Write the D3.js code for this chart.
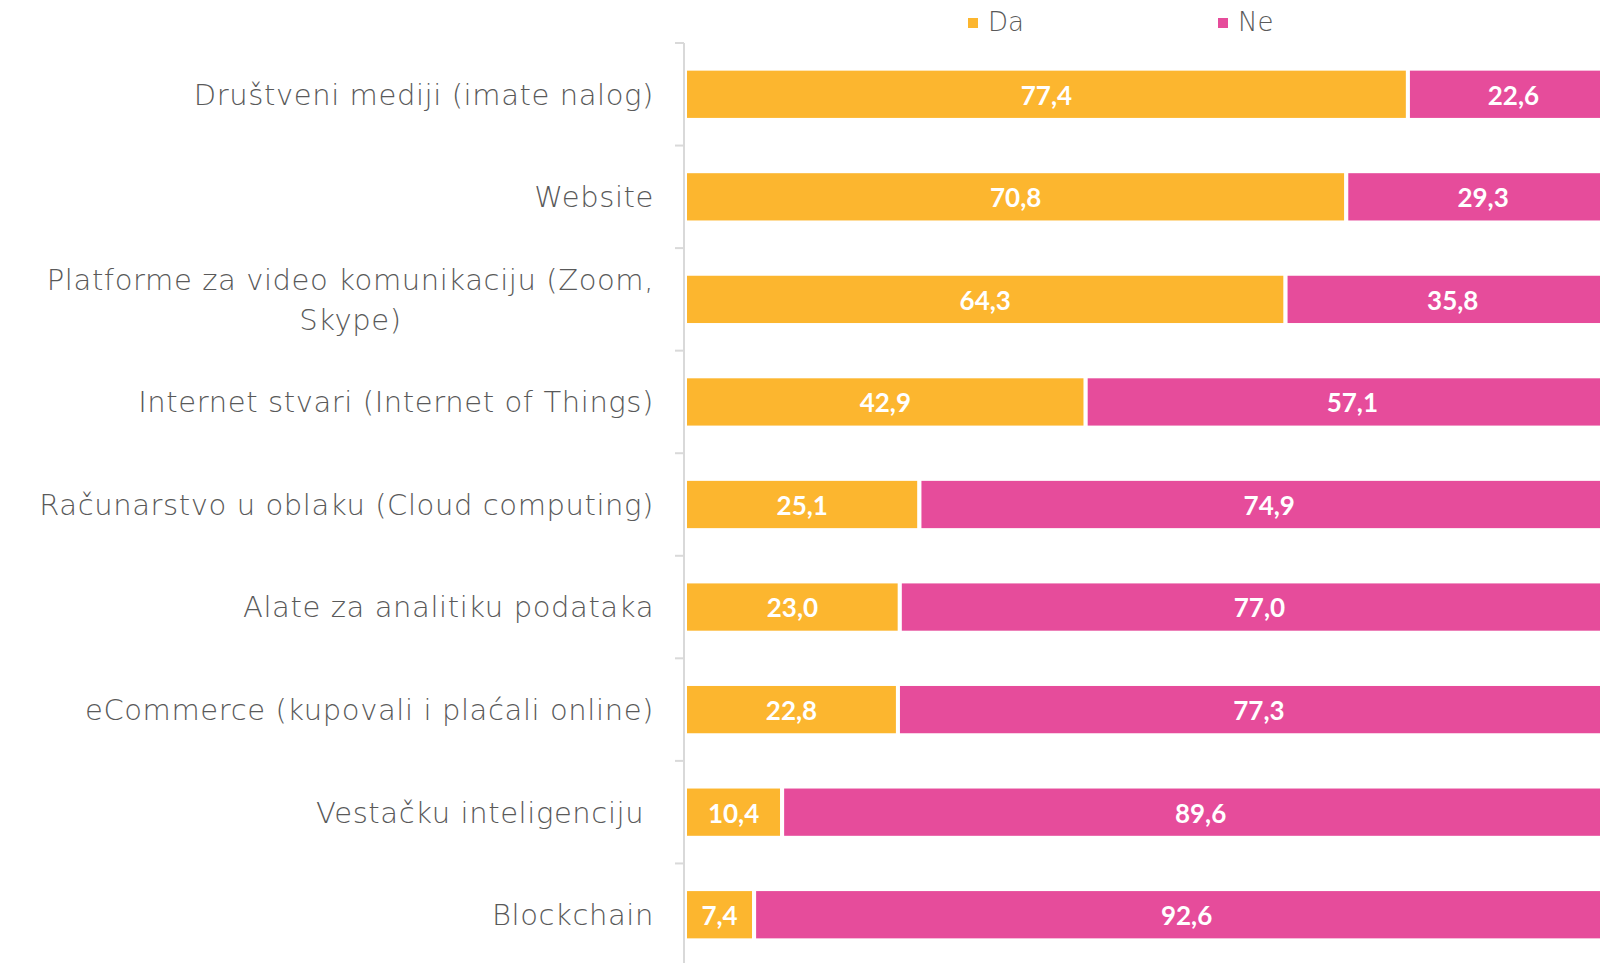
<html>
<head>
<meta charset="utf-8">
<title>Digitalni alati</title>
<script src="https://d3js.org/d3.v7.min.js"></script>
<style>
  body { margin: 0; background: #fff; overflow: hidden; }
  .cat { font-family: "DejaVu Sans", sans-serif; font-weight: 200; fill: #595959; white-space: pre; letter-spacing: 0.6px; }
  .val { font-family: Lato, sans-serif; font-weight: bold; fill: #fff; }
  .leg { font-family: "DejaVu Sans", sans-serif; font-weight: 200; fill: #595959; }
</style>
</head>
<body>
<script>
// data
var categories = [
  "Društveni mediji (imate nalog)",
  "Website",
  "Platforme za video komunikaciju (Zoom,|Skype)",
  "Internet stvari (Internet of Things)",
  "Računarstvo u oblaku (Cloud computing)",
  "Alate za analitiku podataka",
  "eCommerce (kupovali i plaćali online)",
  "Vestačku inteligenciju ",
  "Blockchain"
];
var da = [77.4, 70.8, 64.3, 42.9, 25.1, 23.0, 22.8, 10.4, 7.4];
var ne = [22.6, 29.3, 35.8, 57.1, 74.9, 77.0, 77.3, 89.6, 92.6];
var seriesNames = ["Da", "Ne"];
var colors = ["#FCB62F", "#E64C9B"];

var width = 1600, height = 963;
var svg = d3.select("body").append("svg")
    .attr("width", width)
    .attr("height", height);

var x = d3.scaleLinear().domain([0, 100]).range([685, 1619]);
var y = d3.scaleBand()
    .domain(categories)
    .range([43, 966])
    .paddingInner(0.5)
    .paddingOuter(0.25);

var rows = categories.map(function(c, i) {
  return { cat: c, da: da[i], ne: ne[i] };
});

// stacked bars
var fmt = function(v) { return d3.format(".1f")(v).replace(".", ","); };

var g = svg.selectAll(".row")
    .data(rows)
  .enter().append("g");

g.append("rect")
    .attr("x", x(0))
    .attr("y", function(d) { return y(d.cat); })
    .attr("width", function(d) { return x(d.da) - x(0); })
    .attr("height", y.bandwidth())
    .attr("fill", colors[0])
    .attr("stroke", "#fff").attr("stroke-width", 4);

g.append("rect")
    .attr("x", function(d) { return x(d.da); })
    .attr("y", function(d) { return y(d.cat); })
    .attr("width", function(d) { return x(d.da + d.ne) - x(d.da); })
    .attr("height", y.bandwidth())
    .attr("fill", colors[1])
    .attr("stroke", "#fff").attr("stroke-width", 4);

g.append("text")
    .attr("class", "val")
    .attr("x", function(d) { return (x(0) + x(d.da)) / 2; })
    .attr("y", function(d) { return y(d.cat) + y.bandwidth() / 2; })
    .attr("dy", "0.4em")
    .attr("text-anchor", "middle")
    .attr("font-size", 26)
    .text(function(d) { return fmt(d.da); });

g.append("text")
    .attr("class", "val")
    .attr("x", function(d) { return (x(d.da) + x(d.da + d.ne)) / 2; })
    .attr("y", function(d) { return y(d.cat) + y.bandwidth() / 2; })
    .attr("dy", "0.4em")
    .attr("text-anchor", "middle")
    .attr("font-size", 26)
    .text(function(d) { return fmt(d.ne); });

// axis line and ticks at the band edges (drawn over the bar outlines)
var axisX = 684;
svg.append("line")
    .attr("x1", axisX).attr("x2", axisX)
    .attr("y1", y.range()[0]).attr("y2", height)
    .attr("stroke", "#d9d9d9").attr("stroke-width", 2);

var edges = categories.map(function(c) { return y(c) - y.step() * 0.25; });
edges.push(edges[edges.length - 1] + y.step());
svg.selectAll(".tick")
    .data(edges)
  .enter().append("line")
    .attr("x1", axisX - 9).attr("x2", axisX)
    .attr("y1", function(d) { return d; })
    .attr("y2", function(d) { return d; })
    .attr("stroke", "#d9d9d9").attr("stroke-width", 2);

// category labels (multi-line ones are centred as a block, block right-aligned)
var labelRight = 654, lineH = 40;
rows.forEach(function(d) {
  var lines = d.cat.split("|");
  var cy = y(d.cat) + y.bandwidth() / 2;
  var t = svg.append("text")
      .attr("class", "cat")
      .attr("font-size", 29);
  lines.forEach(function(l, i) {
    t.append("tspan")
        .attr("x", labelRight)
        .attr("y", cy + (i - (lines.length - 1) / 2) * lineH)
        .attr("dy", "0.36em")
        .text(l);
  });
  if (lines.length > 1) {
    var maxW = 0;
    t.selectAll("tspan").each(function() { maxW = Math.max(maxW, this.getComputedTextLength()); });
    t.attr("text-anchor", "middle").selectAll("tspan").attr("x", labelRight - maxW / 2);
  } else {
    t.attr("text-anchor", "end");
  }
});

// legend
var legX = [968, 1218];
seriesNames.forEach(function(n, i) {
  svg.append("rect")
      .attr("x", legX[i]).attr("y", 18)
      .attr("width", 10).attr("height", 10)
      .attr("fill", colors[i]);
  svg.append("text")
      .attr("class", "leg")
      .attr("x", legX[i] + 20).attr("y", 31)
      .attr("font-size", 26)
      .text(n);
});
</script>
</body>
</html>
